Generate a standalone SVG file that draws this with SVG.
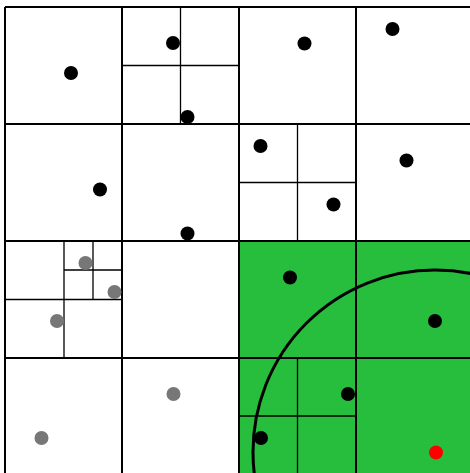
<svg xmlns="http://www.w3.org/2000/svg" width="470" height="473" viewBox="0 0 470 473">
<style>
.g{stroke:#000;stroke-width:2;fill:none}
.s{stroke:#000;stroke-width:1.3;fill:none}
.b{fill:#000}
.y{fill:#777}
</style>
<rect width="470" height="473" fill="#fff"/>
<rect id="green" x="239" y="241" width="240" height="240" fill="#27be3e"/>
<g id="grid">
<path class="g" d="M5,7V480M122,7V480M239,7V480M356,7V480M5,7H480M5,124H480M5,241H480M5,358H480"/>
<path class="s" d="M180.5,7V124M122,65.5H239M297.5,124V241M239,182.5H356M5,299.5H122M64,241V358M93,241V299.5M64,270H122M297.5,358V480M239,416H356"/>
</g>
<circle id="range" cx="435" cy="452" r="182" fill="none" stroke="#000" stroke-width="3"/>
<g id="points">
<circle class="b" cx="71" cy="73" r="7"/>
<circle class="b" cx="173" cy="43" r="7"/>
<circle class="b" cx="187.5" cy="117" r="7"/>
<circle class="b" cx="304.5" cy="43.5" r="7"/>
<circle class="b" cx="392.5" cy="29" r="7"/>
<circle class="b" cx="100" cy="189.5" r="7"/>
<circle class="b" cx="187.5" cy="233.5" r="7"/>
<circle class="b" cx="260.5" cy="146" r="7"/>
<circle class="b" cx="333.5" cy="204.5" r="7"/>
<circle class="b" cx="406.5" cy="160.5" r="7"/>
<circle class="y" cx="85.5" cy="263" r="7"/>
<circle class="y" cx="114.5" cy="292" r="7"/>
<circle class="y" cx="57" cy="321" r="7"/>
<circle class="y" cx="173.5" cy="394" r="7"/>
<circle class="y" cx="41.5" cy="438" r="7"/>
<circle class="b" cx="290" cy="277.5" r="7"/>
<circle class="b" cx="435" cy="321" r="7"/>
<circle class="b" cx="348" cy="394" r="7"/>
<circle class="b" cx="261" cy="438" r="7"/>
<circle cx="436" cy="452.5" r="7" fill="#f00"/>
</g>
</svg>
